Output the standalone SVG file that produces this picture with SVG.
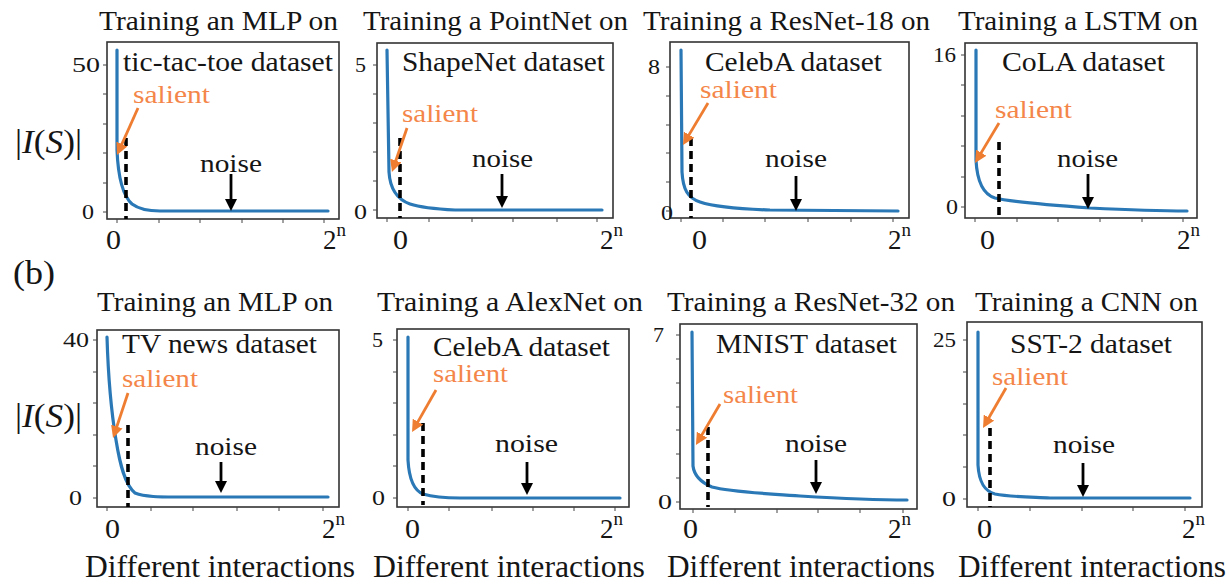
<svg xmlns="http://www.w3.org/2000/svg" width="1229" height="585" viewBox="0 0 1229 585">
<style>
text{font-family:'Liberation Serif',serif;fill:#151515}
.ti{font-size:27px}
.ds{font-size:27px}
.sal{font-size:25px;fill:#F4864A}
.no{font-size:25px}
.yl{font-size:21px}
.xl{font-size:27px}
.sup{font-size:19px}
.di{font-size:31px}
.ax{font-size:34px}
.box{fill:none;stroke:#333;stroke-width:1.6}
.tk{stroke:#444;stroke-width:1}
.cv{fill:none;stroke:#2a78b6;stroke-width:3.2;stroke-linejoin:round;stroke-linecap:round}
.dash{stroke:#000;stroke-width:3.6;stroke-dasharray:8 5}
.ao{stroke:#EE7D31;stroke-width:2.8;marker-end:url(#mo)}
.ak{stroke:#000;stroke-width:2.8;marker-end:url(#mk)}
</style>
<defs>
<marker id="mo" viewBox="0 0 12 12" refX="2" refY="6" markerWidth="12" markerHeight="12" markerUnits="userSpaceOnUse" orient="auto"><path d="M0,0 L12,6 L0,12 z" fill="#EE7D31"/></marker>
<marker id="mk" viewBox="0 0 12 12" refX="2" refY="6" markerWidth="12" markerHeight="12" markerUnits="userSpaceOnUse" orient="auto"><path d="M0,0 L12,6 L0,12 z" fill="#000"/></marker>
</defs>

<text class="ax" x="15" y="153" textLength="67" lengthAdjust="spacingAndGlyphs">|<tspan font-style="italic">I</tspan>(<tspan font-style="italic">S</tspan>)|</text>
<text class="ax" x="15" y="427" textLength="67" lengthAdjust="spacingAndGlyphs">|<tspan font-style="italic">I</tspan>(<tspan font-style="italic">S</tspan>)|</text>
<text class="ax" x="13" y="284" textLength="42" lengthAdjust="spacingAndGlyphs">(b)</text>

<!-- Panel 1 -->
<g id="panel-mlp-tictactoe">
<text class="ti" x="99" y="30" textLength="239" lengthAdjust="spacingAndGlyphs">Training an MLP on</text>
<rect class="box" x="107" y="42" width="232" height="177"/>
<path class="tk" d="M103,65H107M103,94H107M103,124H107M103,153H107M103,183H107M103,212H107M117,219V223M159,219V223M200,219V223M242,219V223M283,219V223M324,219V223"/>
<text class="yl" x="72" y="72" textLength="28" lengthAdjust="spacingAndGlyphs">50</text>
<text class="yl" x="82" y="219" textLength="12" lengthAdjust="spacingAndGlyphs">0</text>
<text class="xl" x="106" y="249" textLength="15" lengthAdjust="spacingAndGlyphs">0</text>
<text class="xl" x="323" y="249">2<tspan class="sup" dy="-13">n</tspan></text>
<text class="ds" x="123" y="71" textLength="210" lengthAdjust="spacingAndGlyphs">tic-tac-toe dataset</text>
<path class="cv" d="M117,50 L117,150 C118,175 122,195 132,204 C140,210 150,211 160,211 L328,211"/>
<line class="dash" x1="126" y1="138" x2="126" y2="219"/>
<text class="sal" x="133" y="103" textLength="77" lengthAdjust="spacingAndGlyphs">salient</text>
<line class="ao" x1="138" y1="108" x2="121.1" y2="145.9"/>
<text class="no" x="200" y="172" textLength="62" lengthAdjust="spacingAndGlyphs">noise</text>
<line class="ak" x1="231" y1="174" x2="231" y2="201"/>
</g>

<!-- Panel 2 -->
<g id="panel-pointnet-shapenet">
<text class="ti" x="363" y="30" textLength="265" lengthAdjust="spacingAndGlyphs">Training a PointNet on</text>
<rect class="box" x="377" y="43" width="236" height="175"/>
<path class="tk" d="M373,65H377M373,94H377M373,123H377M373,152H377M373,181H377M373,210H377M387,218V222M429,218V222M472,218V222M513,218V222M557,218V222M597,218V222"/>
<text class="yl" x="355" y="72" textLength="11" lengthAdjust="spacingAndGlyphs">5</text>
<text class="yl" x="354" y="219" textLength="13" lengthAdjust="spacingAndGlyphs">0</text>
<text class="xl" x="393" y="249" textLength="15" lengthAdjust="spacingAndGlyphs">0</text>
<text class="xl" x="600" y="249">2<tspan class="sup" dy="-13">n</tspan></text>
<text class="ds" x="402" y="71" textLength="203" lengthAdjust="spacingAndGlyphs">ShapeNet dataset</text>
<path class="cv" d="M387,50 L389,172 C390,188 396,199 410,204 C422,208 435,209 455,210 L602,210"/>
<line class="dash" x1="400" y1="138" x2="400" y2="218"/>
<text class="sal" x="402" y="122" textLength="76" lengthAdjust="spacingAndGlyphs">salient</text>
<line class="ao" x1="407" y1="128" x2="395.2" y2="162.5"/>
<text class="no" x="472" y="167" textLength="61" lengthAdjust="spacingAndGlyphs">noise</text>
<line class="ak" x1="502" y1="174" x2="502" y2="198"/>
</g>

<!-- Panel 3 -->
<g id="panel-resnet18-celeba">
<text class="ti" x="643" y="30" textLength="287" lengthAdjust="spacingAndGlyphs">Training a ResNet-18 on</text>
<rect class="box" x="670" y="42" width="239" height="176"/>
<path class="tk" d="M666,67H670M666,96H670M666,125H670M666,153H670M666,182H670M666,211H670M681,218V222M723,218V222M765,218V222M808,218V222M851,218V222M893,218V222"/>
<text class="yl" x="648" y="74" textLength="12" lengthAdjust="spacingAndGlyphs">8</text>
<text class="yl" x="661" y="220" textLength="12" lengthAdjust="spacingAndGlyphs">0</text>
<text class="xl" x="692" y="249" textLength="15" lengthAdjust="spacingAndGlyphs">0</text>
<text class="xl" x="888" y="249">2<tspan class="sup" dy="-13">n</tspan></text>
<text class="ds" x="705" y="71" textLength="177" lengthAdjust="spacingAndGlyphs">CelebA dataset</text>
<path class="cv" d="M681,50 L682,172 C683,190 688,198 700,202 C715,207 740,209 770,210 L898,211"/>
<line class="dash" x1="691" y1="138" x2="691" y2="218"/>
<text class="sal" x="700" y="98" textLength="77" lengthAdjust="spacingAndGlyphs">salient</text>
<line class="ao" x1="708" y1="103" x2="688.1" y2="136.4"/>
<text class="no" x="765" y="167" textLength="62" lengthAdjust="spacingAndGlyphs">noise</text>
<line class="ak" x1="796" y1="176" x2="796" y2="201"/>
</g>

<!-- Panel 4 -->
<g id="panel-lstm-cola">
<text class="ti" x="958" y="30" textLength="240" lengthAdjust="spacingAndGlyphs">Training a LSTM on</text>
<rect class="box" x="965" y="43" width="232" height="175"/>
<path class="tk" d="M961,55H965M961,85H965M961,116H965M961,146H965M961,177H965M961,207H965M975,218V222M1017,218V222M1058,218V222M1100,218V222M1142,218V222M1183,218V222"/>
<text class="yl" x="933" y="62" textLength="23" lengthAdjust="spacingAndGlyphs">16</text>
<text class="yl" x="946" y="214" textLength="12" lengthAdjust="spacingAndGlyphs">0</text>
<text class="xl" x="980" y="249" textLength="15" lengthAdjust="spacingAndGlyphs">0</text>
<text class="xl" x="1177" y="249">2<tspan class="sup" dy="-13">n</tspan></text>
<text class="ds" x="1002" y="71" textLength="163" lengthAdjust="spacingAndGlyphs">CoLA dataset</text>
<path class="cv" d="M976,50 L976,160 C977,180 982,194 995,198 C1010,202 1050,205 1090,208 C1130,210 1160,211 1187,211"/>
<line class="dash" x1="999" y1="142" x2="999" y2="218"/>
<text class="sal" x="995" y="118" textLength="77" lengthAdjust="spacingAndGlyphs">salient</text>
<line class="ao" x1="999" y1="123" x2="980.2" y2="154.4"/>
<text class="no" x="1057" y="167" textLength="61" lengthAdjust="spacingAndGlyphs">noise</text>
<line class="ak" x1="1088" y1="174" x2="1088" y2="199"/>
</g>

<!-- Panel 5 -->
<g id="panel-mlp-tvnews">
<text class="ti" x="97" y="311" textLength="236" lengthAdjust="spacingAndGlyphs">Training an MLP on</text>
<rect class="box" x="97" y="330" width="242" height="177"/>
<path class="tk" d="M93,340H97M93,372H97M93,403H97M93,435H97M93,466H97M93,498H97M107,507V511M151,507V511M193,507V511M237,507V511M279,507V511M323,507V511"/>
<text class="yl" x="63" y="347" textLength="26" lengthAdjust="spacingAndGlyphs">40</text>
<text class="yl" x="69" y="505" textLength="13" lengthAdjust="spacingAndGlyphs">0</text>
<text class="xl" x="105" y="538" textLength="15" lengthAdjust="spacingAndGlyphs">0</text>
<text class="xl" x="322" y="538">2<tspan class="sup" dy="-13">n</tspan></text>
<text class="ds" x="122" y="353" textLength="195" lengthAdjust="spacingAndGlyphs">TV news dataset</text>
<path class="cv" d="M107,337 C108,370 111,410 116,440 C120,465 125,485 135,493 C145,497 160,497 175,497 L328,497"/>
<line class="dash" x1="128" y1="425" x2="128" y2="507"/>
<text class="sal" x="122" y="387" textLength="76" lengthAdjust="spacingAndGlyphs">salient</text>
<line class="ao" x1="128" y1="393" x2="116.2" y2="428.5"/>
<text class="no" x="195" y="455" textLength="62" lengthAdjust="spacingAndGlyphs">noise</text>
<line class="ak" x1="221" y1="462" x2="221" y2="483"/>
<text class="di" x="85" y="577" textLength="270" lengthAdjust="spacingAndGlyphs">Different interactions</text>
</g>

<!-- Panel 6 -->
<g id="panel-alexnet-celeba">
<text class="ti" x="377" y="311" textLength="266" lengthAdjust="spacingAndGlyphs">Training a AlexNet on</text>
<rect class="box" x="397" y="329" width="232" height="178"/>
<path class="tk" d="M393,340H397M393,372H397M393,403H397M393,435H397M393,466H397M393,498H397M408,507V511M449,507V511M492,507V511M533,507V511M574,507V511M615,507V511"/>
<text class="yl" x="372" y="347" textLength="11" lengthAdjust="spacingAndGlyphs">5</text>
<text class="yl" x="372" y="505" textLength="13" lengthAdjust="spacingAndGlyphs">0</text>
<text class="xl" x="405" y="538" textLength="15" lengthAdjust="spacingAndGlyphs">0</text>
<text class="xl" x="600" y="538">2<tspan class="sup" dy="-13">n</tspan></text>
<text class="ds" x="433" y="356" textLength="177" lengthAdjust="spacingAndGlyphs">CelebA dataset</text>
<path class="cv" d="M408,337 L408,460 C409,478 413,490 423,494 C433,497 445,498 460,498 L620,498"/>
<line class="dash" x1="423" y1="423" x2="423" y2="505"/>
<text class="sal" x="433" y="382" textLength="75" lengthAdjust="spacingAndGlyphs">salient</text>
<line class="ao" x1="436" y1="390" x2="417" y2="423.4"/>
<text class="no" x="495" y="452" textLength="63" lengthAdjust="spacingAndGlyphs">noise</text>
<line class="ak" x1="527" y1="462" x2="527" y2="485"/>
<text class="di" x="373" y="577" textLength="272" lengthAdjust="spacingAndGlyphs">Different interactions</text>
</g>

<!-- Panel 7 -->
<g id="panel-resnet32-mnist">
<text class="ti" x="667" y="311" textLength="288" lengthAdjust="spacingAndGlyphs">Training a ResNet-32 on</text>
<rect class="box" x="680" y="324" width="237" height="185"/>
<path class="tk" d="M676,335H680M676,359H680M676,383H680M676,407H680M676,430H680M676,454H680M676,478H680M676,502H680M693,509V513M735,509V513M777,509V513M818,509V513M860,509V513M903,509V513"/>
<text class="yl" x="653" y="342" textLength="11" lengthAdjust="spacingAndGlyphs">7</text>
<text class="yl" x="658" y="509" textLength="14" lengthAdjust="spacingAndGlyphs">0</text>
<text class="xl" x="683" y="538" textLength="15" lengthAdjust="spacingAndGlyphs">0</text>
<text class="xl" x="888" y="538">2<tspan class="sup" dy="-13">n</tspan></text>
<text class="ds" x="716" y="353" textLength="181" lengthAdjust="spacingAndGlyphs">MNIST dataset</text>
<path class="cv" d="M692,332 L693,466 C694,474 700,482 712,487 C730,492 760,493 800,496 C850,499 880,500 907,500"/>
<line class="dash" x1="708" y1="427" x2="708" y2="507"/>
<text class="sal" x="723" y="403" textLength="75" lengthAdjust="spacingAndGlyphs">salient</text>
<line class="ao" x1="720" y1="404" x2="701" y2="436.4"/>
<text class="no" x="785" y="452" textLength="62" lengthAdjust="spacingAndGlyphs">noise</text>
<line class="ak" x1="816" y1="460" x2="816" y2="484"/>
<text class="di" x="667" y="577" textLength="268" lengthAdjust="spacingAndGlyphs">Different interactions</text>
</g>

<!-- Panel 8 -->
<g id="panel-cnn-sst2">
<text class="ti" x="975" y="311" textLength="223" lengthAdjust="spacingAndGlyphs">Training a CNN on</text>
<rect class="box" x="967" y="322" width="235" height="185"/>
<path class="tk" d="M963,340H967M963,372H967M963,404H967M963,435H967M963,467H967M963,499H967M978,507V511M1030,507V511M1082,507V511M1133,507V511M1185,507V511"/>
<text class="yl" x="933" y="347" textLength="23" lengthAdjust="spacingAndGlyphs">25</text>
<text class="yl" x="942" y="506" textLength="14" lengthAdjust="spacingAndGlyphs">0</text>
<text class="xl" x="977" y="538" textLength="15" lengthAdjust="spacingAndGlyphs">0</text>
<text class="xl" x="1182" y="538">2<tspan class="sup" dy="-13">n</tspan></text>
<text class="ds" x="1010" y="353" textLength="162" lengthAdjust="spacingAndGlyphs">SST-2 dataset</text>
<path class="cv" d="M978,332 L978,465 C979,482 984,491 995,494 C1010,497 1030,497 1050,498 L1190,498"/>
<line class="dash" x1="990" y1="428" x2="990" y2="507"/>
<text class="sal" x="992" y="385" textLength="76" lengthAdjust="spacingAndGlyphs">salient</text>
<line class="ao" x1="1006" y1="388" x2="988" y2="419.3"/>
<text class="no" x="1053" y="453" textLength="62" lengthAdjust="spacingAndGlyphs">noise</text>
<line class="ak" x1="1083" y1="463" x2="1083" y2="487"/>
<text class="di" x="958" y="577" textLength="268" lengthAdjust="spacingAndGlyphs">Different interactions</text>
</g>
</svg>
